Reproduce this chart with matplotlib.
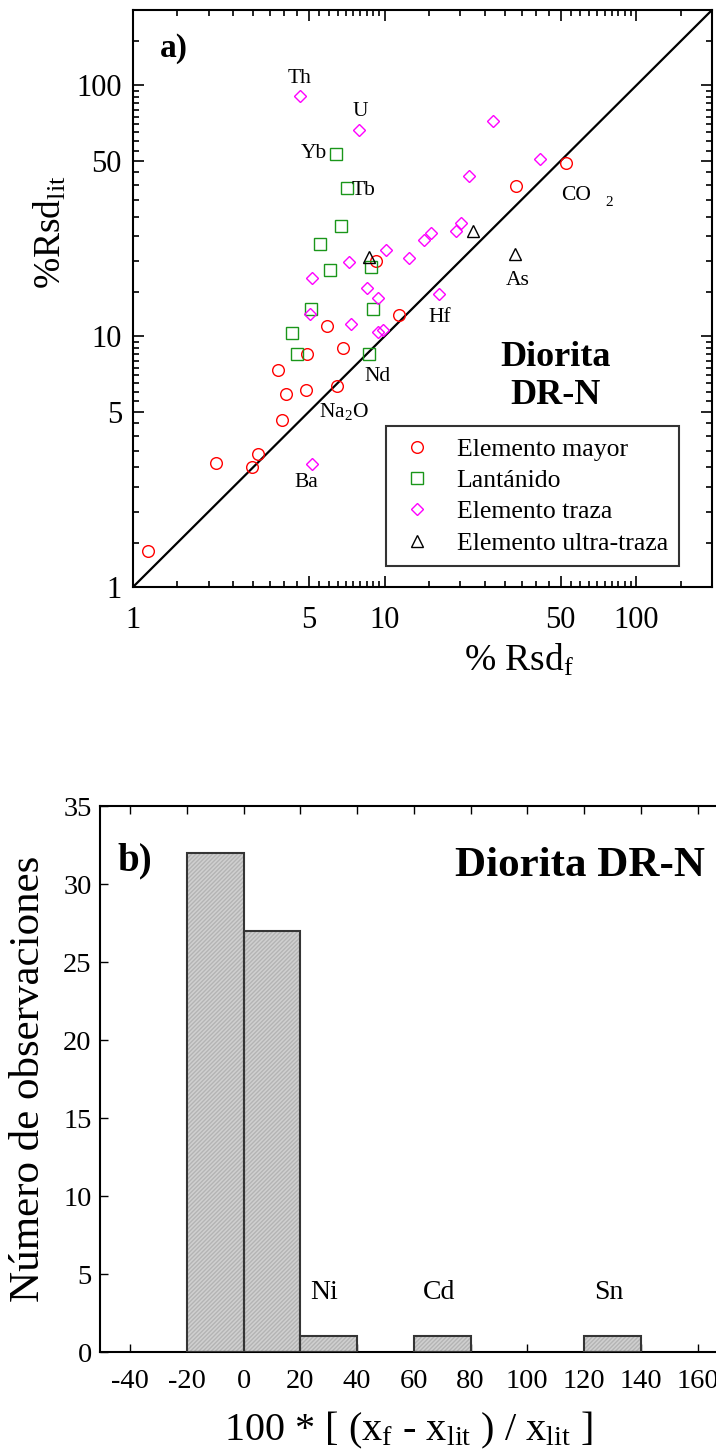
import matplotlib
matplotlib.use('Agg')
import matplotlib.pyplot as plt
from matplotlib.ticker import FixedLocator, FixedFormatter, NullFormatter
from matplotlib.lines import Line2D

plt.rcParams['font.family'] = ['Liberation Serif', 'DejaVu Serif']
plt.rcParams['mathtext.fontset'] = 'custom'
plt.rcParams['mathtext.rm'] = 'Liberation Serif'
plt.rcParams['mathtext.it'] = 'Liberation Serif:italic'
plt.rcParams['mathtext.bf'] = 'Liberation Serif:bold'
plt.rcParams['mathtext.default'] = 'regular'
plt.rcParams['axes.unicode_minus'] = False

# ---------------- data: panel a ----------------
mayor_x = [1.15, 2.13, 2.98, 3.15, 3.92, 4.06, 3.78, 4.87, 4.92, 5.9, 6.82, 6.46, 11.4, 9.2, 33.2, 52.4]
mayor_y = [1.39, 3.12, 3.01, 3.39, 4.63, 5.87, 7.32, 6.1, 8.48, 10.96, 8.96, 6.32, 12.2, 19.9, 39.6, 49.3]

lant_x = [6.38, 7.10, 6.72, 5.52, 6.04, 8.86, 8.99, 5.11, 4.28, 4.50, 8.64]
lant_y = [53.4, 39.0, 27.4, 23.3, 18.3, 18.9, 12.9, 12.9, 10.3, 8.48, 8.48]

traza_x = [4.60, 7.94, 27.0, 41.6, 21.6, 20.1, 19.3, 15.3, 14.4, 10.1, 12.5, 7.24,
           5.13, 8.51, 9.38, 16.5, 5.04, 7.37, 9.43, 9.88, 5.16]
traza_y = [90.4, 66.2, 72.5, 51.0, 43.4, 28.3, 26.4, 25.7, 24.1, 22.1, 20.5, 19.7,
           17.0, 15.6, 14.2, 14.8, 12.3, 11.2, 10.4, 10.6, 3.09]

ultra_x = [8.70, 22.5, 33.0]
ultra_y = [20.7, 26.3, 21.2]

etiquetas = ['Th', 'U', 'Tb', 'CO', 'As', 'Hf', 'Nd', 'Na$_2$O', 'Ba']
etiq_x = [4.60, 8.04, 8.22, 57.4, 33.9, 16.6, 9.38, 6.88, 4.87]
etiq_y = [106.7, 78.4, 38.0, 36.4, 16.7, 11.9, 6.93, 5.02, 2.62]

leyenda = ['Elemento mayor', 'Lantánido', 'Elemento traza', 'Elemento ultra-traza']
ticks_a = [1, 5, 10, 50, 100]

# ---------------- data: panel b ----------------
bin_left = [-20, 0, 20, 60, 120]
bin_count = [32, 27, 1, 1, 1]
bin_width = 20
hist_labels = ['Ni', 'Cd', 'Sn']
hist_lab_x = [28.5, 69, 128.6]
hist_lab_y = [3.8, 3.8, 3.8]
ticks_bx = list(range(-40, 161, 20))
ticks_by = list(range(0, 36, 5))

fig = plt.figure(figsize=(7.16, 14.56), dpi=100)

# ================= panel a =================
ax = fig.add_axes([133/716, 1-587/1456, 579/716, 577/1456])
ax.set_xscale('log')
ax.set_yscale('log')
ax.set_xlim(1, 200)
ax.set_ylim(1, 200)

ax.plot([1, 200], [1, 200], color='black', lw=1.6, zorder=1)

mk = dict(linestyle='none', markerfacecolor='none', markeredgewidth=1.0, zorder=3)
ax.plot(mayor_x, mayor_y, marker='o', markersize=8.4, markeredgecolor='#ff0000', **mk)
ax.plot(lant_x, lant_y, marker='s', markersize=8.4, markeredgecolor='#1a961a', **mk)
ax.plot(traza_x, traza_y, marker='D', markersize=6.6, markeredgecolor='#ff00ff', **mk)
ax.plot(ultra_x, ultra_y, marker='^', markersize=8.6, markeredgecolor='black', **mk)

for t, x, y in zip(etiquetas, etiq_x, etiq_y):
    ax.text(x, y, t, fontsize=15.5, ha='center', va='center')
ax.text(78.2, 34.2, '2', fontsize=11, ha='center', va='center')
ax.text(5.90, 53.6, 'Yb', fontsize=15.5, ha='right', va='center')

ax.text(0.047, 0.934, 'a)', transform=ax.transAxes, fontsize=24, fontweight='bold',
        ha='left', va='center')
ax.text(0.729, 0.364, 'Diorita\nDR-N', transform=ax.transAxes, fontsize=26,
        fontweight='bold', ha='center', va='center', linespacing=1.2)

ax.xaxis.set_major_locator(FixedLocator(ticks_a))
ax.xaxis.set_major_formatter(FixedFormatter([str(t) for t in ticks_a]))
ax.yaxis.set_major_locator(FixedLocator(ticks_a))
ax.yaxis.set_major_formatter(FixedFormatter([str(t) for t in ticks_a]))
minors = [1.5, 2, 2.5, 3, 3.5, 4, 4.5, 5.5, 6, 6.5, 7, 7.5, 8, 8.5, 9, 9.5,
          15, 20, 25, 30, 35, 40, 45, 55, 60, 65, 70, 75, 80, 85, 90, 95, 150, 200]
ax.xaxis.set_minor_locator(FixedLocator(minors))
ax.yaxis.set_minor_locator(FixedLocator(minors))
ax.xaxis.set_minor_formatter(NullFormatter())
ax.yaxis.set_minor_formatter(NullFormatter())
ax.tick_params(which='both', direction='in', top=True, right=True, labelsize=22, width=1.2)
ax.tick_params(which='major', length=8)
ax.tick_params(which='minor', length=4)
ax.tick_params(axis='x', which='major', pad=14)
ax.tick_params(axis='y', which='major', pad=8)
for s in ax.spines.values():
    s.set_linewidth(1.5)

ax.set_xlabel('% Rsd$_f$', fontsize=27)
ax.xaxis.set_label_coords(0.667, -0.095)
ax.set_ylabel('%Rsd$_{lit}$', fontsize=27)
ax.yaxis.set_label_coords(-0.112, 0.615)

handles = [
    Line2D([], [], marker='o', markersize=8.4, markeredgecolor='#ff0000', **mk),
    Line2D([], [], marker='s', markersize=8.4, markeredgecolor='#1a961a', **mk),
    Line2D([], [], marker='D', markersize=6.6, markeredgecolor='#ff00ff', **mk),
    Line2D([], [], marker='^', markersize=8.6, markeredgecolor='black', **mk),
]
leg = ax.legend(handles, leyenda, loc='lower left', bbox_to_anchor=(0.437, 0.036),
                fontsize=18.5, frameon=True, fancybox=False, edgecolor='black',
                handlelength=1.5, handletextpad=0.8, labelspacing=0.32,
                borderpad=0.45, borderaxespad=0.0)
leg.get_frame().set_linewidth(1.5)

# ================= panel b =================
bx = fig.add_axes([100/716, 1-1352/1456, 616/716, 546/1456])
bx.set_xlim(-50.6, 166.5)
bx.set_ylim(0, 35)
bx.bar(bin_left, bin_count, width=bin_width, align='edge', facecolor='#d0d0d0',
       edgecolor='#b4b4b4', hatch='////////', linewidth=0, zorder=2)
bx.bar(bin_left, bin_count, width=bin_width, align='edge', fill=False,
       edgecolor='#353535', linewidth=1.5, zorder=3)
for t, x, y in zip(hist_labels, hist_lab_x, hist_lab_y):
    bx.text(x, y, t, fontsize=20, ha='center', va='center')

bx.set_xticks(ticks_bx)
bx.set_yticks(ticks_by)
bx.tick_params(which='both', direction='in', top=True, labelsize=20.5, width=1.0, length=6)
bx.tick_params(axis='x', pad=12)
bx.tick_params(axis='y', pad=6)
bx.spines['right'].set_visible(False)
for s in ['left', 'bottom', 'top']:
    bx.spines[s].set_linewidth(1.5)

bx.text(0.028, 0.9, 'b)', transform=bx.transAxes, fontsize=28, fontweight='bold',
        ha='left', va='center')
bx.text(0.982, 0.89, 'Diorita DR-N', transform=bx.transAxes, fontsize=31,
        fontweight='bold', ha='right', va='center')

bx.set_xlabel('100 * [ (x$_f$ - x$_{lit}$ ) / x$_{lit}$ ]', fontsize=29)
bx.xaxis.set_label_coords(0.5, -0.105)
bx.set_ylabel('Número de observaciones', fontsize=31)
bx.yaxis.set_label_coords(-0.085, 0.5)

fig.savefig('out.png', dpi=100)
